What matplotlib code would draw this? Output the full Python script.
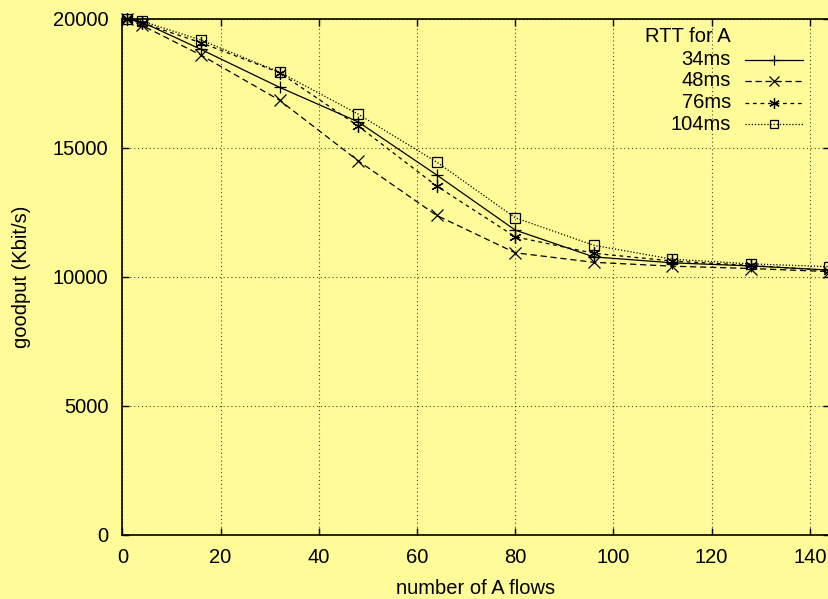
import matplotlib
matplotlib.use("Agg")
import matplotlib.pyplot as plt
from matplotlib.lines import Line2D

# number of A flows
flows = [1, 4, 16, 32, 48, 64, 80, 96, 112, 128, 144]

# goodput (Kbit/s) per RTT of A
rtt_34 = [20000, 19880, 18820, 17350, 16010, 13950, 11810, 10770, 10540, 10420, 10260]
rtt_48 = [20000, 19750, 18600, 16850, 14500, 12380, 10930, 10560, 10410, 10320, 10200]
rtt_76 = [20000, 19850, 19080, 17920, 15850, 13520, 11550, 10910, 10610, 10440, 10240]
rtt_104 = [20000, 19920, 19180, 17940, 16310, 14450, 12290, 11220, 10680, 10500, 10390]

labels = ["34ms", "48ms", "76ms", "104ms"]
x_ticks = [0, 20, 40, 60, 80, 100, 120, 140]
y_ticks = [0, 5000, 10000, 15000, 20000]

BG = "#fefb98"
FS = 14.5
plt.rcParams["font.family"] = ["Liberation Sans", "DejaVu Sans"]
plt.rcParams["font.size"] = FS

fig = plt.figure(figsize=(8.29, 5.99), dpi=100, facecolor=BG)
W, H = 829, 599
ax = fig.add_axes([122.4 / W, (H - 534.5) / H, (829.5 - 122.4) / W, (534.5 - 19) / H])
ax.set_facecolor(BG)

styles = [
    dict(ls="-", marker="+", ms=9),
    dict(ls=(0, (5, 3)), marker="x", ms=8),
    dict(ls=(0, (3, 3)), marker=(6, 2, 0), ms=9),
    dict(ls=(0, (1, 1.5)), marker="s", ms=7, mfc="none"),
]
series = [rtt_34, rtt_48, rtt_76, rtt_104]
for ys, st in zip(series, styles):
    ax.plot(flows, ys, color="black", lw=0.9, mew=0.9, clip_on=False, **st)

ax.set_xlim(0, 144)
ax.set_ylim(0, 20000)
ax.set_xticks(x_ticks)
ax.set_yticks(y_ticks)
ax.tick_params(direction="in", length=5, width=1, top=True, right=True, labelsize=FS)
ax.tick_params(axis="x", pad=10)
ax.tick_params(axis="y", pad=10)
ax.grid(True, color="black", lw=0.8, ls=(0, (1, 2.5)), alpha=0.7)
for s in ax.spines.values():
    s.set_linewidth(1.2)

ax.set_xlabel("number of A flows", fontsize=FS, labelpad=8)
ax.set_ylabel("goodput (Kbit/s)", fontsize=FS, labelpad=16)

# gnuplot-style key: title and labels right aligned, sample line on the right
def px(x, y):
    return x / W, 1 - y / H

fig.text(*px(731, 37), "RTT for A", ha="right", va="center", fontsize=FS)
row_y = [59.5, 81, 102.5, 124]
for lab, st, yy in zip(labels, styles, row_y):
    fig.text(*px(731, yy), lab, ha="right", va="center", fontsize=FS)
    x0, y0 = px(745, yy)
    x1, _ = px(803, yy)
    xm, _ = px(774, yy)
    fig.add_artist(Line2D([x0, x1], [y0, y0], transform=fig.transFigure,
                          color="black", lw=0.9, ls=st["ls"]))
    fig.add_artist(Line2D([xm], [y0], transform=fig.transFigure, color="black",
                          marker=st["marker"], ms=st["ms"] * 0.85, mew=0.9,
                          mfc=st.get("mfc", "black"), ls="none"))

fig.savefig("out.png", dpi=100, facecolor=BG)
